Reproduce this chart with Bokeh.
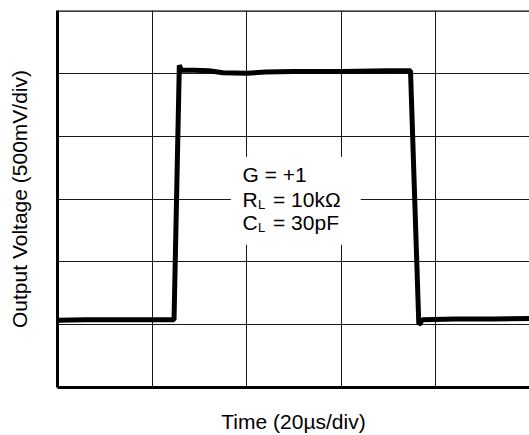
from bokeh.plotting import figure
from bokeh.models import Range1d, FixedTicker, Span, Label
from bokeh.embed import file_html
from bokeh.resources import INLINE

# Trace (x in time divisions, y in voltage divisions)
time_div = [0.0, 0.3, 0.6, 0.9, 1.232, 1.288, 1.31, 1.45, 1.6, 1.75, 2.0, 2.2,
            2.5, 3.0, 3.5, 3.732, 3.820, 3.86, 4.2, 4.6, 4.99]
volt_div = [1.07, 1.08, 1.08, 1.08, 1.08, 5.127, 5.05, 5.05, 5.04, 5.01, 5.00, 5.02,
            5.03, 5.03, 5.04, 5.04, 1.00, 1.08, 1.09, 1.09, 1.10]

x_grid_ticks = [1, 2, 3, 4]
y_grid_ticks = [1, 2, 3, 4, 5]

x_label = "Time (20µs/div)"
y_label = "Output Voltage (500mV/div)"
note_g = "G = +1"
note_r = ["R", "L", "= 10kΩ"]
note_c = ["C", "L", "= 30pF"]

FONT = "Liberation Sans"

p = figure(width=529, height=435, output_backend="svg", toolbar_location=None,
           x_range=Range1d(0, 4.99), y_range=Range1d(0, 6),
           min_border_left=57, min_border_right=0, min_border_top=10, min_border_bottom=47)
p.outline_line_color = None
p.background_fill_color = "white"
p.border_fill_color = "white"

for ax in (p.xaxis[0], p.yaxis[0]):
    ax.ticker = FixedTicker(ticks=[])
    ax.major_tick_out = 0
    ax.major_tick_in = 0
    ax.minor_tick_line_color = None
    ax.major_label_standoff = 0
    ax.axis_line_width = 3
    ax.axis_line_color = "black"
    ax.axis_label_text_font = FONT
    ax.axis_label_text_font_style = "normal"
    ax.axis_label_text_font_size = "21px"
    ax.axis_label_text_color = "black"

p.xaxis.axis_label = x_label
p.yaxis.axis_label = y_label
p.xaxis.axis_label_standoff = 22
p.yaxis.axis_label_standoff = 27

p.xgrid.ticker = FixedTicker(ticks=x_grid_ticks)
p.ygrid.ticker = FixedTicker(ticks=y_grid_ticks)
p.grid.grid_line_color = "black"
p.grid.grid_line_width = 1
p.grid.grid_line_alpha = 0.9

p.add_layout(Span(location=6, dimension="width", line_color="black", line_width=2.5))

# white patch behind the annotation text
p.quad(left=[1.833], right=[3.206], bottom=[2.27], top=[3.671],
       fill_color="white", line_color=None)

p.line(time_div, volt_div, line_color="black", line_width=5, line_join="bevel")

def lab(text, x, y, size="21px", xo=0, yo=0):
    p.add_layout(Label(x=x, y=y, text=text, x_offset=xo, y_offset=yo,
                       text_font=FONT, text_font_size=size, text_color="black",
                       text_align="left", text_baseline="alphabetic"))

x0 = 1.956
lab(note_g, x0, 3.39)
lab(note_r[0], x0, 2.995)
lab(note_r[1], x0, 2.995, size="13px", xo=15.5, yo=-5)
lab(note_r[2], x0, 2.995, xo=30.5)
lab(note_c[0], x0, 2.62)
lab(note_c[1], x0, 2.62, size="13px", xo=15.5, yo=-5)
lab(note_c[2], x0, 2.62, xo=30.5)

open("out.html", "w").write(file_html(p, INLINE))
